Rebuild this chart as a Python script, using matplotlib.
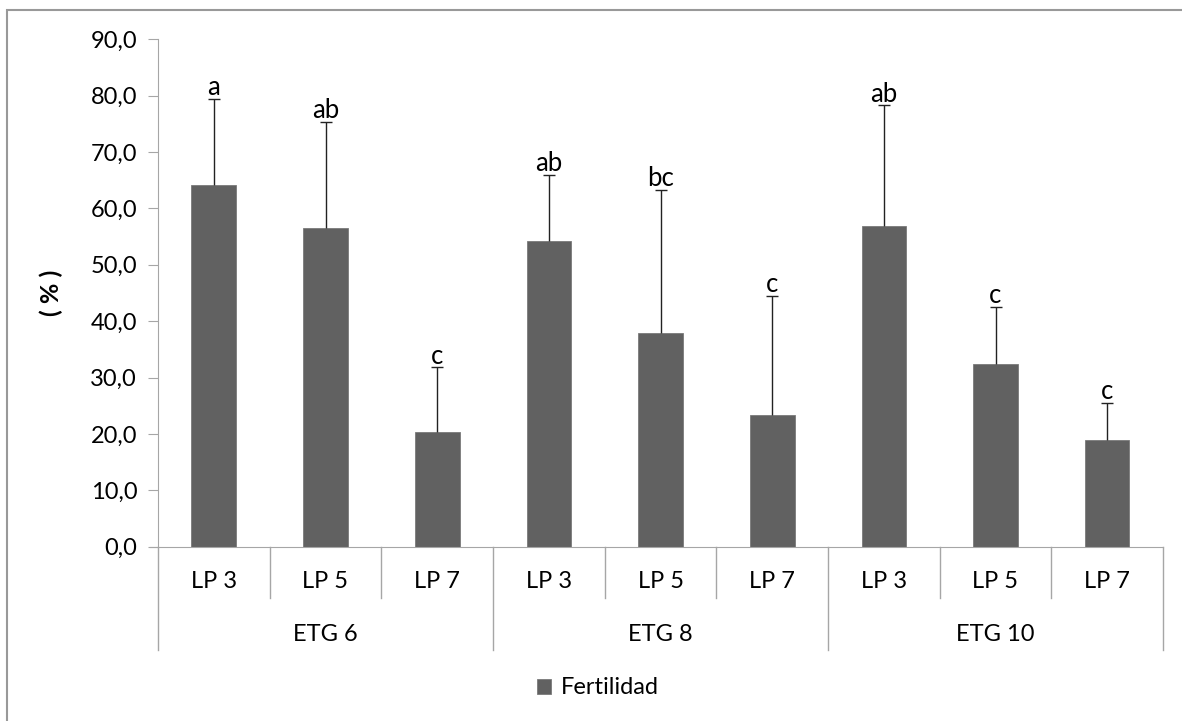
import matplotlib

matplotlib.use("Agg")
import matplotlib.pyplot as plt
from matplotlib.patches import Rectangle
import numpy as np

plt.rcParams["font.family"] = ["Lato", "DejaVu Sans"]

groups = ["ETG 6", "ETG 8", "ETG 10"]
levels = ["LP 3", "LP 5", "LP 7"]
fertilidad = [64.2, 56.5, 20.3, 54.2, 37.9, 23.3, 56.9, 32.4, 19.0]
err_top = [79.4, 75.4, 31.8, 66.0, 63.3, 44.5, 78.3, 42.5, 25.5]
letters = ["a", "ab", "c", "ab", "bc", "c", "ab", "c", "c"]
yticks = np.arange(0, 91, 10)

W, H = 1182, 721
fs = 17
fig = plt.figure(figsize=(W / 100, H / 100), dpi=100)
ax = fig.add_axes([158 / W, 1 - 546.7 / H, 1005 / W, 507.4 / H])

grey = "#a6a6a6"
n = len(fertilidad)
x = np.arange(n)
yerr = np.array(err_top) - np.array(fertilidad)
ax.bar(x, fertilidad, width=0.4, color="#616161", edgecolor="#7a7a7a",
       linewidth=0.6, label="Fertilidad", zorder=2)
eb = ax.errorbar(x, fertilidad, yerr=[np.zeros(n), yerr], fmt="none",
                 ecolor="#222222", elinewidth=1, capsize=4.5, capthick=1,
                 zorder=3)
eb[1][0].set_visible(False)  # no cap at the bar top
for xi, top, lab in zip(x, err_top, letters):
    ax.annotate(lab, (xi, top), xytext=(0, -1), textcoords="offset points",
                ha="center", va="bottom", fontsize=18.5)

ax.set_xlim(-0.5, n - 0.5)
ax.set_ylim(0, 90)
ax.set_yticks(yticks)
ax.set_yticklabels([f"{v:.1f}".replace(".", ",") for v in yticks], fontsize=fs)
ax.tick_params(axis="y", direction="out", length=7, color=grey, pad=8)
ax.set_xticks([])
for s in ["top", "right"]:
    ax.spines[s].set_visible(False)
ax.spines["left"].set_color(grey)
ax.spines["bottom"].set_color(grey)
ax.spines["bottom"].set_bounds(-0.5 - 8 / 111.7, n - 0.5)

ax.set_ylabel("( % )", fontsize=18, fontweight="bold", labelpad=20)

# category axis: separators and labels drawn below the plot
trans = ax.get_xaxis_transform()
px = 1 / 507.4
for b in range(n + 1):
    depth = 103 if b % 3 == 0 else 51
    ax.plot([b - 0.5, b - 0.5], [0, -depth * px], transform=trans,
            color=grey, lw=1, clip_on=False)
for i in range(n):
    ax.text(i, -35 * px, levels[i % 3], transform=trans, ha="center",
            va="center", fontsize=fs)
for g, name in enumerate(groups):
    ax.text(3 * g + 1, -88 * px, name, transform=trans, ha="center",
            va="center", fontsize=fs)

fig.legend(loc="center", bbox_to_anchor=(598 / W, 1 - 688 / H), frameon=False,
           fontsize=fs, handlelength=0.6, handleheight=0.6, handletextpad=0.4)

fig.patches.append(Rectangle((7 / W, -0.1), 1.2, 1 - 10 / H + 0.1,
                             transform=fig.transFigure, fill=False,
                             edgecolor="#999999", lw=1.5))

fig.savefig("out.png", dpi=100)
